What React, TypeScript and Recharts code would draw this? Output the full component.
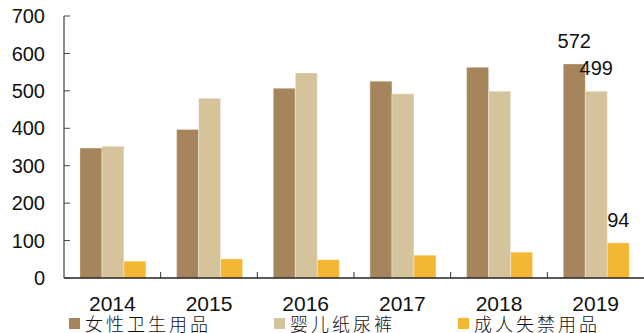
import React from 'react';
import { BarChart, Bar, XAxis, YAxis, Legend, LabelList } from 'recharts';

const years = ['2014', '2015', '2016', '2017', '2018', '2019'];
const feminineCare = [347, 397, 507, 526, 563, 572];
const babyDiapers = [352, 480, 548, 492, 499, 499];
const adultIncontinence = [45, 51, 49, 61, 69, 94];
const yTicks = [0, 100, 200, 300, 400, 500, 600, 700];

const SERIES = [
  { key: 'feminine', name: '女性卫生用品', color: '#A6845C' },
  { key: 'baby', name: '婴儿纸尿裤', color: '#D5C39B' },
  { key: 'adult', name: '成人失禁用品', color: '#F3B733' },
];

const data = years.map((year, i) => ({
  year,
  feminine: feminineCare[i],
  baby: babyDiapers[i],
  adult: adultIncontinence[i],
}));

const FONT = '"Liberation Sans", Arial, sans-serif';
const LAST = years.length - 1;
const AXIS_Y_GAP = 18;

// only the latest year carries value labels
const renderLastLabel = (props: any) => {
  const { x, y, width, value, index } = props;
  if (index !== LAST) return null;
  return (
    <text x={x + width / 2} y={y - 16} textAnchor="middle" fontSize={20} fontFamily={FONT} fill="#111">
      {value}
    </text>
  );
};

// year label plus a small inward tick on the right edge of each category band
const YearTick = (props: any) => {
  const { x, y, payload, index } = props;
  const half = payload.offset || 0;
  const axisY = y - AXIS_Y_GAP;
  return (
    <g>
      <text x={x} y={y} dy="0.71em" textAnchor="middle" fontSize={21} fontFamily={FONT} fill="#111">
        {payload.value}
      </text>
      {index < LAST && (
        <line x1={x + half} x2={x + half} y1={axisY} y2={axisY - 6} stroke="#333" strokeWidth={1} />
      )}
    </g>
  );
};

const renderLegend = (props: any) => {
  const { payload } = props;
  return (
    <div style={{ display: 'flex', alignItems: 'center' }}>
      {payload.map((entry: any, i: number) => (
        <div key={`legend-${i}`} style={{ display: 'flex', alignItems: 'center', marginRight: 63, flexShrink: 0 }}>
          <span style={{ width: 11, height: 11, background: entry.color, display: 'inline-block', marginRight: 5 }} />
          <span
            style={{
              fontFamily: '"Noto Sans CJK SC", sans-serif',
              fontSize: 18,
              fontWeight: 300,
              letterSpacing: 3,
              color: '#111',
              lineHeight: '18px',
              whiteSpace: 'nowrap',
            }}
          >
            {entry.value}
          </span>
        </div>
      ))}
    </div>
  );
};

const App: React.FC = () => {
  return (
    <div style={{ position: 'absolute', left: 0, top: 0 }}>
      <BarChart
        width={644}
        height={333}
        data={data}
        margin={{ top: 16, right: 0, left: 0, bottom: 25 }}
        barCategoryGap="16.5%"
        barGap={0}
      >
        <XAxis
          dataKey="year"
          height={30}
          tickLine={false}
          tickSize={0}
          tickMargin={AXIS_Y_GAP}
          axisLine={{ stroke: '#222', strokeWidth: 1.5 }}
          tick={<YearTick />}
          interval={0}
        />
        <YAxis
          width={64}
          domain={[0, 700]}
          ticks={yTicks}
          tickLine={{ stroke: '#444' }}
          tickSize={-6}
          tickMargin={25}
          axisLine={{ stroke: '#666', strokeWidth: 1.5 }}
          tick={{ fontSize: 20, fontFamily: FONT, fill: '#111' }}
        />
        <Legend
          layout="horizontal"
          verticalAlign="middle"
          align="center"
          content={renderLegend}
          wrapperStyle={{ top: 314, left: 69, width: 600 }}
        />
        {SERIES.map((s) => (
          <Bar
            key={s.key}
            dataKey={s.key}
            name={s.name}
            fill={s.color}
            stroke="#ffffff"
            strokeOpacity={0.35}
            isAnimationActive={false}
          >
            <LabelList dataKey={s.key} content={renderLastLabel} />
          </Bar>
        ))}
      </BarChart>
    </div>
  );
};

export default App;
